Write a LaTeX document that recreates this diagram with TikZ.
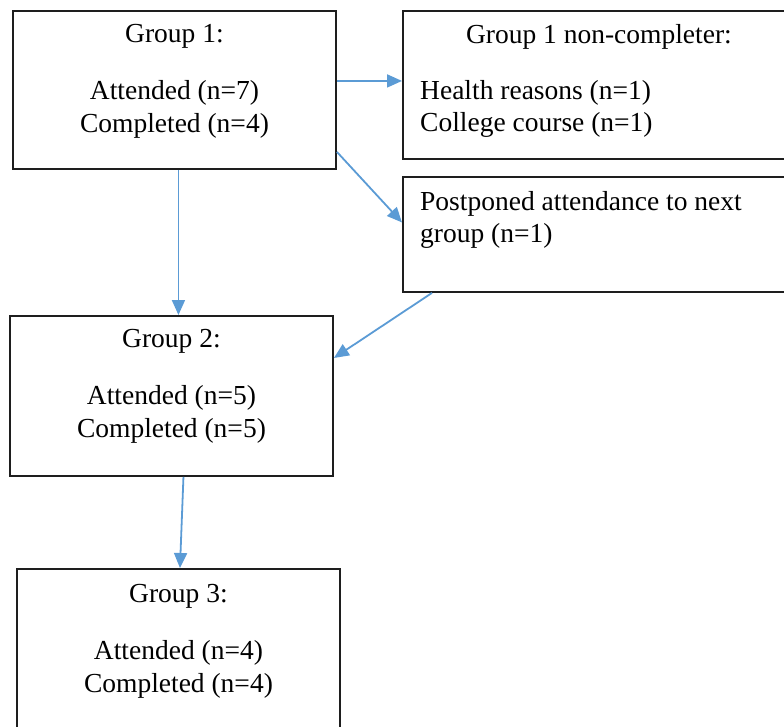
\documentclass[tikz,border=0pt]{standalone}
\usepackage{fontspec}
\setmainfont{Liberation Serif}
\usetikzlibrary{arrows.meta,positioning,calc}

\definecolor{linkblue}{RGB}{91,155,213}
\definecolor{boxline}{RGB}{30,30,30}

\begin{document}
\begin{tikzpicture}[x=1pt, y=-1pt,
  box/.style={draw=boxline, line width=1.9pt, anchor=north west, inner sep=0pt},
  lbl/.style={font=\fontsize{27.5}{32.5}\selectfont, inner sep=0pt},
  link/.style={draw=linkblue, line width=1.8pt, -{Triangle[length=15pt,width=13pt]}}]

\useasboundingbox (0,0) rectangle (784,727);
\clip (0,0) rectangle (784,727);

% Group boxes down the left side
\foreach \n/\x/\y/\a/\c/\h/\d in {1/12/10/7/4/158/14, 2/9/315/5/5/160/14, 3/16/568/4/4/175/16} {
  \node[box, minimum width=323pt, minimum height=\h pt] (g\n) at (\x,\y) {};
  \node[lbl, align=center, anchor=north, below=\d pt of g\n.north] (t\n)
    {Group \n:\\[25pt]Attended (n=\a)\\Completed (n=\c)};
}

% Non-completers on the right
\node[box, minimum width=392pt, minimum height=148pt] (nc) at (402,10) {};
\node[lbl, anchor=north, below=14pt of nc.north] (nct) {Group 1 non-completer:};
\node[lbl, align=left, anchor=north west] (ncl) at (420,80)
  {Health reasons (n=1)\\College course (n=1)};

\node[box, minimum width=392pt, minimum height=115pt] (pp) at (402,176) {};
\node[lbl, align=left, anchor=north west] (ppt) at (420,191)
  {Postponed attendance to next\\group (n=1)};

% Arrows
\draw[link] ($(g1.east)+(0,-9)$) coordinate (a1) -- (a1 -| nc.west);
\draw[link] ($(g1.south east)+(0,-18)$) -- ($(pp.west)+(0,-12)$);
\draw[link] ($(g1.south)+(4,0)$) coordinate (a3) -- (a3 |- g2.north);
\draw[link] ($(pp.south west)+(30,0)$) -- ($(g2.north east)+(0,43)$);
\draw[link] ($(g2.south)+(12,0)$) -- ($(g3.north)+(1.5,0)$);

\end{tikzpicture}
\end{document}
